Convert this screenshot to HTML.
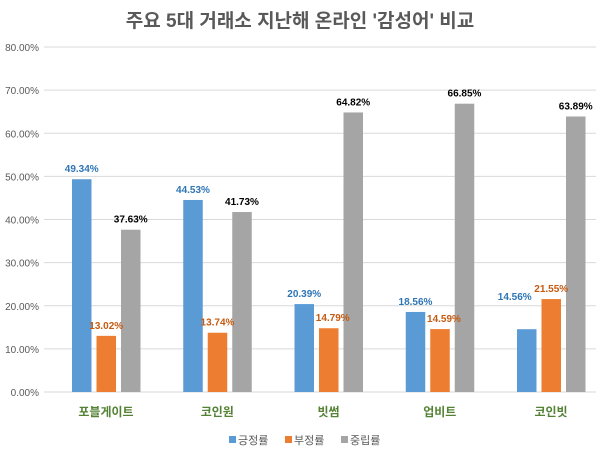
<!DOCTYPE html>
<html><head><meta charset="utf-8"><style>
body{margin:0;background:#fff;}
svg{display:block;font-family:"Liberation Sans","Noto Sans CJK KR",sans-serif;}
</style></head><body>
<svg id="c" width="600" height="453">
<text x="300" y="27" text-anchor="middle" font-size="19" font-weight="bold" fill="#595959">주요 5대 거래소 지난해 온라인 '감성어' 비교</text>
<g id="grid"></g><g id="bars"></g><g id="labels"></g>
<g>
<rect x="229" y="436" width="7" height="7" fill="#5B9BD5"/>
<text x="238" y="444" font-size="11" fill="#595959">긍정률</text>
<rect x="285" y="436" width="7" height="7" fill="#ED7D31"/>
<text x="294" y="444" font-size="11" fill="#595959">부정률</text>
<rect x="341" y="436" width="7" height="7" fill="#A5A5A5"/>
<text x="350" y="444" font-size="11" fill="#595959">중립률</text>
</g>
</svg>
<script>
const categories=["포블게이트","코인원","빗썸","업비트","코인빗"];
const positive=[49.34,44.53,20.39,18.56,14.56];
const negative=[13.02,13.74,14.79,14.59,21.55];
const neutral=[37.63,41.73,64.82,66.85,63.89];
const yTicks=[0,10,20,30,40,50,60,70,80];
const NS="http://www.w3.org/2000/svg";
const y0=392,yTop=47,yMax=80;
function y(v){return y0-(v/yMax)*(y0-yTop);}
function xc(i){return 106+i*111.25;}
function mk(tag,attrs,parent){const e=document.createElementNS(NS,tag);for(const k in attrs)e.setAttribute(k,attrs[k]);document.getElementById(parent).appendChild(e);return e;}
yTicks.forEach(t=>{
  const l=mk('line',{x1:44,x2:596,y1:y(t),y2:y(t),stroke:'#D9D9D9','stroke-width':1},'grid');
  
  
  const tx=mk('text',{x:39,y:y(t)+4,'text-anchor':'end','font-size':10,fill:'#595959'},'grid');
  tx.textContent=t.toFixed(2)+'%';
  
  
});
const series=[[positive,'#5B9BD5','#2E75B6','positive'],[negative,'#ED7D31','#C55A11','negative'],[neutral,'#A5A5A5','#000','neutral']];
categories.forEach((c,i)=>{
  series.forEach((s,j)=>{
    const v=s[0][i];const bx=xc(i)-34+j*24.5;
    const r=mk('rect',{x:bx,y:y(v),width:19.5,height:y0-y(v),fill:s[1]},'bars');
    
    
    let lx=bx+9.75,ly=y(v)-7;
    if(j==1&&s[0][i]<positive[i]&&positive[i]-s[0][i]<8){lx+=4;}
    if(j==0&&i==4){lx-=12;ly-=22;}
    const t=mk('text',{x:lx,y:ly,'text-anchor':'middle','font-size':10,'font-weight':'bold',fill:s[2]},'labels');
    t.textContent=v.toFixed(2)+'%';
    
    
  });
  const ct=mk('text',{x:xc(i),y:416,'text-anchor':'middle','font-size':12,'font-weight':'bold',fill:'#548235'},'labels');
  ct.textContent=c;
  
  
});
</script>
</body></html>
